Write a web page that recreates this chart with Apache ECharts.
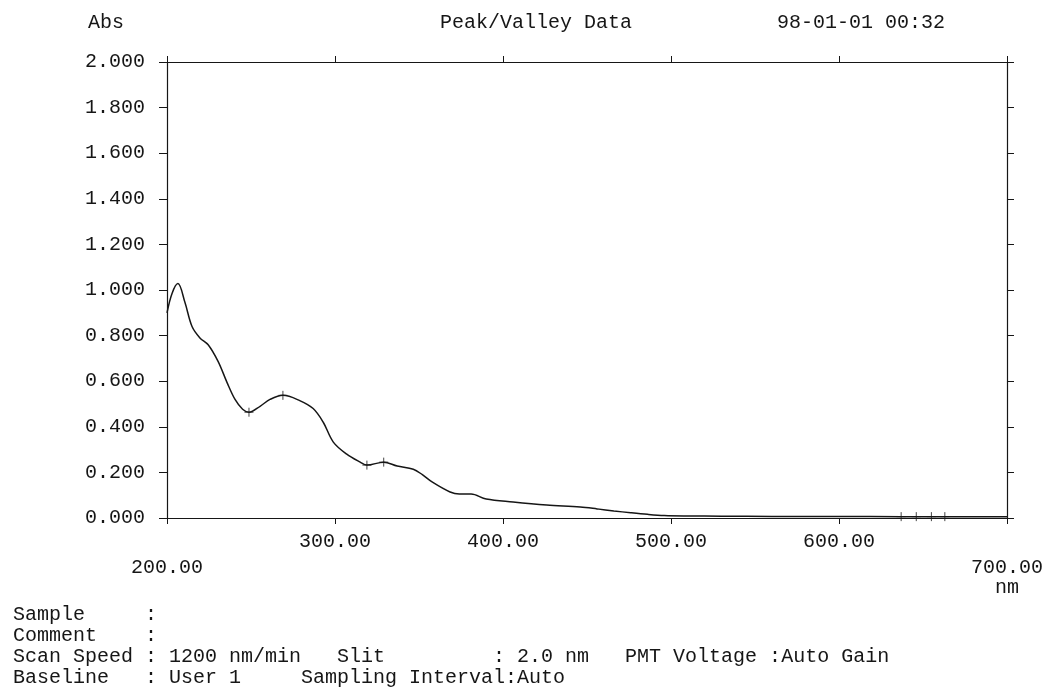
<!DOCTYPE html>
<html>
<head>
<meta charset="utf-8">
<title>Peak/Valley Data</title>
<script src="https://cdn.jsdelivr.net/npm/echarts@6/dist/echarts.min.js"></script>
<style>
  html, body { margin: 0; padding: 0; background: #ffffff; }
  #chart { width: 1046px; height: 698px; }
</style>
</head>
<body>
<div id="chart"></div>
<script>
// Absorbance spectrum, wavelength (nm) vs Abs
const wavelengths = [200, 203, 206.5, 210.7, 214.9, 219.6, 224.5, 230.4, 235.7, 240.5, 245, 248.8,
  255.4, 261.3, 269, 279, 287, 293, 299, 307, 315, 319, 329, 337, 346.6, 352, 358, 368.5, 374,
  381, 390, 406, 426, 446, 456, 466, 476, 486, 496, 510, 530, 560, 600, 637, 646, 655, 663, 680, 700];
const absorbance = [0.900, 0.985, 1.028, 0.945, 0.840, 0.790, 0.760, 0.687, 0.595, 0.520, 0.477, 0.464,
  0.490, 0.520, 0.538, 0.515, 0.480, 0.420, 0.333, 0.280, 0.245, 0.232, 0.245, 0.228, 0.214, 0.190, 0.157,
  0.114, 0.105, 0.105, 0.083, 0.070, 0.057, 0.048, 0.040, 0.031, 0.023, 0.016, 0.011, 0.009, 0.008, 0.007,
  0.007, 0.006, 0.006, 0.006, 0.006, 0.006, 0.006];

// Detected peaks and valleys, marked with "+"
const markerNm = [248.8, 269, 319, 329, 637, 646, 655, 663];
const markerAbs = [0.464, 0.538, 0.232, 0.245, 0.006, 0.006, 0.006, 0.006];

// Axis ranges and tick steps
const xMin = 200, xMax = 700, xStep = 100;
const yMin = 0, yMax = 2, yStep = 0.2;

// Header and footer texts
const yUnit = 'Abs';
const title = 'Peak/Valley Data';
const stamp = '98-01-01 00:32';
const xUnit = 'nm';
const footerLines = [
  'Sample     :',
  'Comment    :',
  'Scan Speed : 1200 nm/min   Slit         : 2.0 nm   PMT Voltage :Auto Gain',
  'Baseline   : User 1     Sampling Interval:Auto'
];

const FONT = '"Liberation Mono", "DejaVu Sans Mono", monospace';
const INK = '#161616';

const chart = echarts.init(document.getElementById('chart'), null, { renderer: 'canvas' });

const curve = wavelengths.map((w, i) => [w, absorbance[i]]);
const markers = markerNm.map((w, i) => [w, markerAbs[i]]);

const footerGraphics = footerLines.map((line, i) => ({
  type: 'text',
  left: 13,
  top: 605 + i * 21,
  style: { text: line, font: '20px ' + FONT, fill: INK }
}));

const option = {
  backgroundColor: '#ffffff',
  animation: false,
  grid: { left: 167, right: 39, top: 62, bottom: 180, containLabel: false },
  xAxis: [
    {
      type: 'value', position: 'bottom', min: xMin, max: xMax, interval: xStep,
      axisLine: { show: true, onZero: false, lineStyle: { color: INK, width: 1.2 } },
      axisTick: { show: true, inside: false, length: 6, lineStyle: { color: INK, width: 1 } },
      splitLine: { show: false },
      axisLabel: {
        show: true, margin: 11, color: INK, fontFamily: FONT, fontSize: 20, lineHeight: 26,
        showMinLabel: true, showMaxLabel: true, hideOverlap: false,
        formatter: function (v) {
          const s = v.toFixed(2);
          if (v === xMin) return '\n' + s;
          if (v === xMax) return '\n' + s + '\n{u|' + xUnit + '}';
          return s;
        },
        rich: { u: { fontFamily: FONT, fontSize: 20, lineHeight: 14, color: INK } }
      }
    },
    {
      type: 'value', position: 'top', min: xMin, max: xMax, interval: xStep,
      axisLine: { show: true, onZero: false, lineStyle: { color: INK, width: 1.2 } },
      axisTick: { show: true, inside: false, length: 6, lineStyle: { color: INK, width: 1 } },
      splitLine: { show: false },
      axisLabel: { show: false }
    }
  ],
  yAxis: [
    {
      type: 'value', position: 'left', min: yMin, max: yMax, interval: yStep,
      axisLine: { show: true, onZero: false, lineStyle: { color: INK, width: 1.2 } },
      axisTick: { show: true, inside: false, length: 8, lineStyle: { color: INK, width: 1 } },
      splitLine: { show: false },
      axisLabel: {
        show: true, margin: 22, color: INK, fontFamily: FONT, fontSize: 20,
        showMinLabel: true, showMaxLabel: true,
        formatter: function (v) { return v.toFixed(3); }
      }
    },
    {
      type: 'value', position: 'right', min: yMin, max: yMax, interval: yStep,
      axisLine: { show: true, onZero: false, lineStyle: { color: INK, width: 1.2 } },
      axisTick: { show: true, inside: false, length: 7, lineStyle: { color: INK, width: 1 } },
      splitLine: { show: false },
      axisLabel: { show: false }
    }
  ],
  series: [
    {
      name: 'Abs', type: 'line', xAxisIndex: 0, yAxisIndex: 0,
      data: curve, smooth: 0.35, showSymbol: false, symbol: 'none',
      lineStyle: { color: INK, width: 1.5 },
      z: 3
    },
    {
      name: 'Peak/Valley', type: 'scatter', xAxisIndex: 0, yAxisIndex: 0,
      data: markers,
      symbol: 'path://M5,0L5,10M0,5L10,5', symbolSize: 9,
      itemStyle: { color: 'none', borderColor: INK, borderWidth: 1 },
      z: 4
    }
  ],
  graphic: [
    { type: 'text', left: 88, top: 13, style: { text: yUnit, font: '20px ' + FONT, fill: INK } },
    { type: 'text', left: 440, top: 13, style: { text: title, font: '20px ' + FONT, fill: INK } },
    { type: 'text', left: 777, top: 13, style: { text: stamp, font: '20px ' + FONT, fill: INK } }
  ].concat(footerGraphics)
};

chart.setOption(option);
</script>
</body>
</html>
